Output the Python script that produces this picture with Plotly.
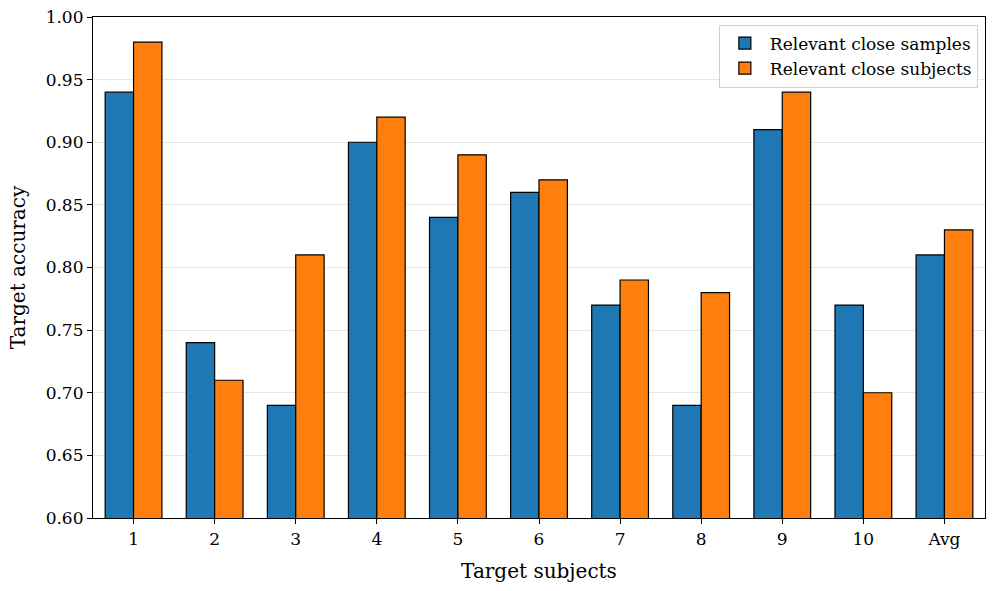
import plotly.graph_objects as go

categories = ["1", "2", "3", "4", "5", "6", "7", "8", "9", "10", "Avg"]
close_samples = [0.94, 0.74, 0.69, 0.90, 0.84, 0.86, 0.77, 0.69, 0.91, 0.77, 0.81]
close_subjects = [0.98, 0.71, 0.81, 0.92, 0.89, 0.87, 0.79, 0.78, 0.94, 0.70, 0.83]
yticks = [0.60, 0.65, 0.70, 0.75, 0.80, 0.85, 0.90, 0.95, 1.00]

FONT = "DejaVu Serif"

fig = go.Figure()
fig.add_trace(go.Bar(x=categories, y=close_samples, name="Relevant close samples",
                     marker=dict(color="#1f77b4", line=dict(color="black", width=1.2))))
fig.add_trace(go.Bar(x=categories, y=close_subjects, name="Relevant close subjects",
                     marker=dict(color="#ff7f0e", line=dict(color="black", width=1.2))))

fig.update_layout(
    width=996, height=591,
    margin=dict(l=93, r=11, t=17, b=73, autoexpand=False),
    paper_bgcolor="white", plot_bgcolor="white",
    barmode="group", bargap=0.3, bargroupgap=0,
    font=dict(family=FONT, size=17, color="black"),
    legend=dict(x=0.992, y=0.985, xanchor="right", yanchor="top",
                bgcolor="rgba(255,255,255,0.8)", bordercolor="#d0d0d0", borderwidth=1,
                font=dict(family=FONT, size=17), tracegroupgap=2, itemwidth=40),
    showlegend=True,
)
fig.update_xaxes(
    type="category", range=[-0.5, 10.5], automargin=False,
    showline=True, linecolor="black", linewidth=1.2, mirror=True,
    ticks="outside", ticklen=5, tickcolor="black",
    showgrid=False,
    title=dict(text="Target subjects", font=dict(family=FONT, size=20), standoff=16),
)
fig.update_yaxes(
    range=[0.6, 1.0], tickvals=yticks, ticktext=[f"{v:.2f}" for v in yticks], automargin=False,
    showline=True, linecolor="black", linewidth=1.2, mirror=True,
    ticks="outside", ticklen=5, tickcolor="black",
    showgrid=True, gridcolor="#e6e6e6", gridwidth=1,
    zeroline=False,
    title=dict(text="Target accuracy", font=dict(family=FONT, size=20), standoff=14),
)

fig.write_html("out.html", config={"displayModeBar": False},
               post_script="document.body.style.margin='0';document.body.style.overflow='hidden';")
